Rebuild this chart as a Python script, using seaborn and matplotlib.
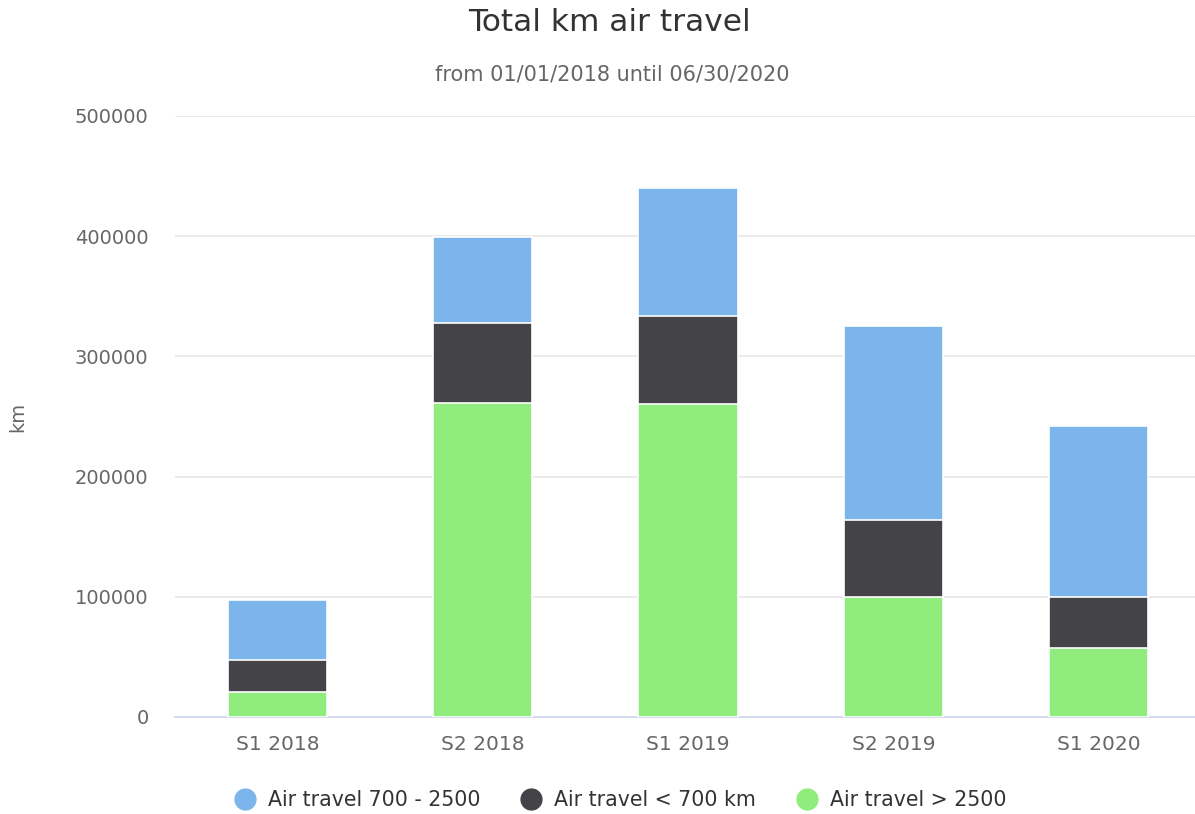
import matplotlib
matplotlib.use("Agg")
import matplotlib.pyplot as plt
from matplotlib.lines import Line2D
import seaborn as sns
import pandas as pd
import numpy as np

# data
periods = ["S1 2018", "S2 2018", "S1 2019", "S2 2019", "S1 2020"]
long_haul = [21000, 261000, 260000, 100000, 57000]      # Air travel > 2500
short_haul = [26000, 67000, 74000, 64000, 43000]        # Air travel < 700 km
medium_haul = [50000, 71000, 106000, 161000, 142000]    # Air travel 700 - 2500

series_names = ["Air travel 700 - 2500", "Air travel < 700 km", "Air travel > 2500"]
colors = ["#7cb5ec", "#434348", "#90ed7d"]

sns.set_theme(style="white")
plt.rcParams["font.family"] = ["DejaVu Sans"]

df = pd.DataFrame({
    "period": periods,
    "green": long_haul,
    "dark": short_haul,
    "blue": medium_haul,
})
df["top_dark"] = df["green"] + df["dark"]
df["top_blue"] = df["top_dark"] + df["blue"]

fig = plt.figure(figsize=(11.95, 8.14), dpi=100)
ax = fig.add_axes([0.1464, 0.1192, 0.8536, 0.7383])

# stacked by overdrawing cumulative totals
for col, c in [("top_blue", colors[0]), ("top_dark", colors[1]), ("green", colors[2])]:
    sns.barplot(data=df, x="period", y=col, color=c, width=0.483,
                edgecolor="white", linewidth=1.2, saturation=1, ax=ax, zorder=3)

ax.set_ylim(0, 500000)
ax.set_xlim(-0.5, 4.47)
ax.set_yticks(np.arange(0, 500001, 100000))
ax.yaxis.grid(True, color="#e6e6e6", linewidth=1.2, zorder=0)
ax.xaxis.grid(False)
for s in ["top", "right", "left"]:
    ax.spines[s].set_visible(False)
ax.spines["bottom"].set_color("#ccd6eb")
ax.spines["bottom"].set_linewidth(1.2)
ax.tick_params(axis="y", length=0, pad=19, labelsize=14, labelcolor="#666666")
ax.tick_params(axis="x", length=0, pad=13, labelsize=14.5, labelcolor="#666666")
ax.set_xlabel("")
ax.set_ylabel("km", fontsize=14, color="#666666", labelpad=34)

fig.text(0.51, 0.972, "Total km air travel", ha="center", va="center",
         fontsize=22.5, color="#333333")
fig.text(0.512, 0.909, "from 01/01/2018 until 06/30/2020", ha="center", va="center",
         fontsize=15, color="#666666")

handles = [Line2D([0], [0], marker="o", linestyle="", markersize=15,
                  markerfacecolor=c, markeredgecolor=c) for c in colors]
fig.legend(handles, series_names, loc="center", bbox_to_anchor=(0.515, 0.017),
           ncol=3, frameon=False, fontsize=14.8, labelcolor="#333333",
           handletextpad=0.1, columnspacing=1.5)

fig.savefig("out.png", dpi=100)
